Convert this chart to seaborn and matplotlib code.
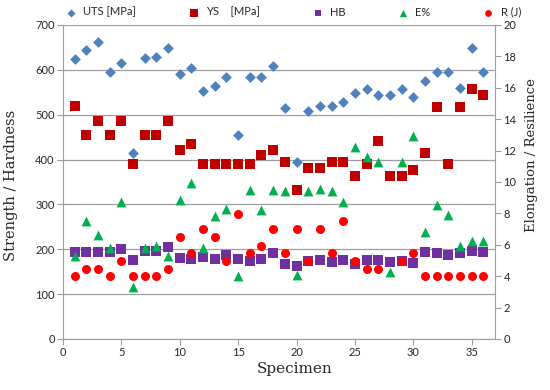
import numpy as np
import pandas as pd
import matplotlib
matplotlib.use("Agg")
import matplotlib.pyplot as plt
import seaborn as sns

# Values

specimen = list(range(1, 37))

uts = [623, 645, 662, 596, 616, 415, 626, 629, 649, 590, 603, 552,
       563, 584, 454, 584, 584, 608, 515, 394, 508, 520, 520, 529,
       548, 557, 543, 543, 558, 539, 576, 596, 596, 560, 648, 596]

ys = [519, 454, 485, 454, 485, 389, 454, 454, 485, 421, 434, 389,
      389, 389, 389, 389, 410, 421, 395, 331, 380, 380, 395, 395,
      363, 391, 442, 363, 363, 376, 415, 517, 389, 517, 558, 543]

hb = [194, 194, 194, 194, 201, 175, 196, 196, 205, 181, 178, 183,
      178, 187, 178, 173, 178, 192, 166, 163, 174, 177, 172, 176,
      168, 177, 177, 172, 173, 170, 193, 191, 188, 191, 195, 193]

elong = [5.3, 7.5, 6.6, 5.8, 8.7, 3.3, 5.8, 5.9, 5.3, 8.85, 9.95, 5.8,
         7.8, 8.3, 4.0, 9.5, 8.2, 9.5, 9.4, 4.1, 9.4, 9.55, 9.4, 8.75,
         12.2, 11.6, 11.3, 4.25, 11.3, 12.9, 6.8, 8.5, 7.9, 5.95, 6.25, 6.25]

resil = [4.0, 4.45, 4.45, 4.0, 4.95, 4.0, 4.0, 4.0, 4.45, 6.5, 5.5, 7.0,
         6.5, 4.95, 7.95, 5.5, 5.95, 7.0, 5.5, 7.0, 4.95, 7.0, 5.5, 7.5,
         4.95, 4.45, 4.45, np.nan, 4.95, 5.5, 4.0, 4.0, 4.0, 4.0, 4.0, 4.0]

left_series = [("UTS [MPa]", uts, "D", "#4F81BD", 30),
               ("YS    [MPa]", ys, "s", "#C00000", 48),
               ("HB", hb, "s", "#7030A0", 42)]
right_series = [("E%", elong, "^", "#00B050", 50),
                ("R (J)", resil, "o", "#FF0000", 42)]

sns.set_style("white")
plt.rcParams['font.family'] = ['Lato', 'DejaVu Sans']

fig, ax = plt.subplots(figsize=(5.5, 3.9), dpi=100)
fig.subplots_adjust(left=0.1145, right=0.9, top=0.936, bottom=0.131)
ax2 = ax.twinx()

for name, vals, mk, col, sz in left_series:
    sns.scatterplot(x=specimen, y=vals, ax=ax, marker=mk, color=col, s=sz,
                    linewidth=0, label=name, zorder=3)
for name, vals, mk, col, sz in right_series:
    sns.scatterplot(x=specimen, y=vals, ax=ax2, marker=mk, color=col, s=sz,
                    linewidth=0, label=name, zorder=3)

grey = "#9E9E9E"
ax.set_xlim(0, 37)
ax.set_ylim(0, 700)
ax2.set_ylim(0, 20)
ax.set_xticks(np.arange(0, 36, 5))
ax.set_yticks(np.arange(0, 701, 100))
ax2.set_yticks(np.arange(0, 21, 2))
ax.grid(axis="y", color=grey, linewidth=0.9)
ax.set_axisbelow(True)

for a in (ax, ax2):
    a.spines["top"].set_visible(False)
    for s in ("left", "right", "bottom"):
        a.spines[s].set_color(grey)
    a.tick_params(direction="out", length=4, color=grey, labelsize=8,
                  labelcolor="#262626", pad=2)
ax.spines["right"].set_visible(False)
ax2.spines["left"].set_visible(False)
ax2.spines["bottom"].set_visible(False)
ax.tick_params(axis="x", bottom=True)
ax.tick_params(axis="y", left=True)
ax2.tick_params(axis="y", right=True)

ax.set_xlabel("Specimen", family="DejaVu Serif", fontsize=11)
ax.set_ylabel("Strength / Hardness", family="DejaVu Serif", fontsize=10.5)
ax2.set_ylabel("Elongation / Resilience", family="DejaVu Serif", fontsize=9.5)
ax.xaxis.set_label_coords(0.537, -0.075)
ax.yaxis.set_label_coords(-0.105, 0.49)
ax2.yaxis.set_label_coords(1.07, 0.585)

h1, l1 = ax.get_legend_handles_labels()
h2, l2 = ax2.get_legend_handles_labels()
ax.legend_.remove()
ax2.legend_.remove()
fig.legend(h1 + h2, l1 + l2, loc="center", bbox_to_anchor=(0.528, 0.969),
           ncol=5, frameon=False, fontsize=8, handletextpad=0.1,
           columnspacing=4.2, markerscale=0.75, borderaxespad=0)

fig.savefig("out.png", dpi=100)
